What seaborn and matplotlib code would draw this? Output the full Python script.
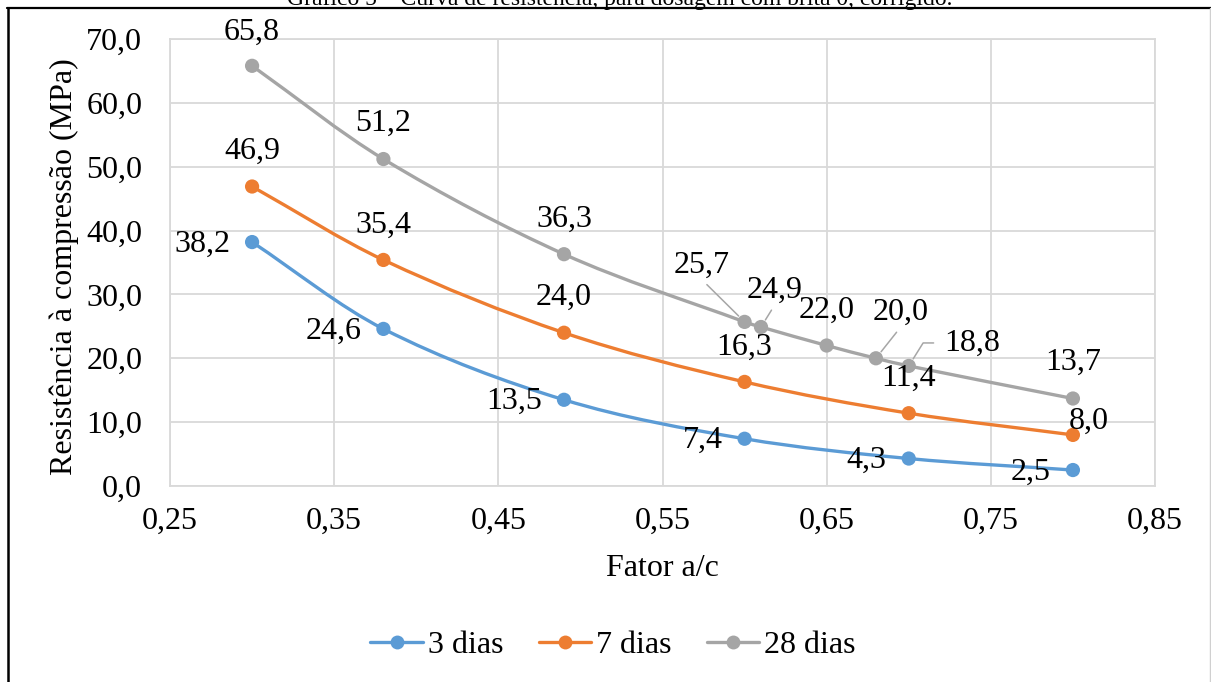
import numpy as np
import pandas as pd
import matplotlib
matplotlib.use("Agg")
import matplotlib.pyplot as plt
import seaborn as sns
from matplotlib.path import Path
from matplotlib.patches import PathPatch
from matplotlib.lines import Line2D
from matplotlib.ticker import FuncFormatter

# Compressive strength vs water/cement ratio
fator_3d = [0.30, 0.38, 0.49, 0.60, 0.70, 0.80]
res_3d = [38.2, 24.6, 13.5, 7.4, 4.3, 2.5]

fator_7d = [0.30, 0.38, 0.49, 0.60, 0.70, 0.80]
res_7d = [46.9, 35.4, 24.0, 16.3, 11.4, 8.0]

fator_28d = [0.30, 0.38, 0.49, 0.60, 0.61, 0.65, 0.68, 0.70, 0.80]
res_28d = [65.8, 51.2, 36.3, 25.7, 24.9, 22.0, 20.0, 18.8, 13.7]

series_names = ["3 dias", "7 dias", "28 dias"]
series_colors = ["#5B9BD5", "#ED7D31", "#A5A5A5"]

x_ticks = [0.25, 0.35, 0.45, 0.55, 0.65, 0.75, 0.85]
y_ticks = [0, 10, 20, 30, 40, 50, 60, 70]

titulo = "Gráfico 5 – Curva de resistência, para dosagem com brita 0, corrigido."
x_label = "Fator a/c"
y_label = "Resistência à compressão (MPa)"

# label placement per point: (dx px, dy px, ha, leader)
label_pos = {
    "3 dias": [(-22, -2, "right", None)] * 6,
    "7 dias": [(0, 35, "center", None)] * 5 + [(16, 14, "center", None)],
    "28 dias": [
        (0, 33, "center", None),
        (0, 36, "center", None),
        (0, 35, "center", None),
        (-43, 57, "center", "straight"),
        (14, 37, "center", "straight"),
        (0, 35, "center", None),
        (25, 46, "center", "straight"),
        (63, 23, "center", "bent"),
        (0, 36, "center", None),
    ],
}

sns.set_theme(style="white")
plt.rcParams["font.family"] = ["Liberation Serif", "DejaVu Serif"]
plt.rcParams["text.color"] = "black"

df = pd.concat([
    pd.DataFrame({"fator": fator_3d, "res": res_3d, "serie": series_names[0]}),
    pd.DataFrame({"fator": fator_7d, "res": res_7d, "serie": series_names[1]}),
    pd.DataFrame({"fator": fator_28d, "res": res_28d, "serie": series_names[2]}),
], ignore_index=True)

W, H = 1211, 682
fig = plt.figure(figsize=(W / 100, H / 100), dpi=100)
ax = fig.add_axes([170 / W, 1 - 486 / H, (1155 - 170) / W, (486 - 39) / H])


def smooth_path(x, y):
    """Cubic Bezier path through the points (Hermite tangents along x)."""
    x = np.asarray(x, float)
    y = np.asarray(y, float)
    n = len(x)
    slopes = np.empty(n)
    for i in range(n):
        a, b = max(i - 1, 0), min(i + 1, n - 1)
        slopes[i] = (y[b] - y[a]) / (x[b] - x[a])
    verts = [(x[0], y[0])]
    codes = [Path.MOVETO]
    for i in range(n - 1):
        dx = x[i + 1] - x[i]
        verts += [(x[i] + dx / 3, y[i] + slopes[i] * dx / 3),
                  (x[i + 1] - dx / 3, y[i + 1] - slopes[i + 1] * dx / 3),
                  (x[i + 1], y[i + 1])]
        codes += [Path.CURVE4] * 3
    return Path(verts, codes)


palette = dict(zip(series_names, series_colors))
for name in series_names:
    sub = df[df["serie"] == name]
    ax.add_patch(PathPatch(smooth_path(sub["fator"], sub["res"]), fill=False,
                           edgecolor=palette[name], lw=2.4, capstyle="round",
                           zorder=2))

sns.scatterplot(data=df, x="fator", y="res", hue="serie", palette=palette,
                s=105, linewidth=0, legend=False, ax=ax, zorder=3)

# data labels
for name in series_names:
    sub = df[df["serie"] == name].reset_index(drop=True)
    for i, row in sub.iterrows():
        dx, dy, ha, leader = label_pos[name][i]
        txt = f"{row['res']:.1f}".replace(".", ",")
        kw = {}
        if leader == "straight":
            kw["arrowprops"] = dict(arrowstyle="-", color="#a6a6a6", lw=1.1,
                                    relpos=(0.5, 0.0), shrinkA=2, shrinkB=6)
        elif leader == "bent":
            kw["arrowprops"] = dict(arrowstyle="-", color="#a6a6a6", lw=1.1,
                                    relpos=(0.0, 0.5), shrinkA=5, shrinkB=6,
                                    connectionstyle="angle,angleA=0,angleB=58,rad=0")
        ax.annotate(txt, xy=(row["fator"], row["res"]), xytext=(dx, dy),
                    textcoords="offset pixels", ha=ha, va="center",
                    fontsize=23, color="black", zorder=4, **kw)

ax.set_xlim(0.25, 0.85)
ax.set_ylim(0, 70)
ax.set_xticks(x_ticks)
ax.set_yticks(y_ticks)
ax.xaxis.set_major_formatter(FuncFormatter(lambda v, p: f"{v:.2f}".replace(".", ",")))
ax.yaxis.set_major_formatter(FuncFormatter(lambda v, p: f"{v:.1f}".replace(".", ",")))
ax.grid(True, color="#d9d9d9", lw=1.3)
ax.set_axisbelow(True)
for s in ax.spines.values():
    s.set_color("#d9d9d9")
    s.set_linewidth(1.3)
ax.tick_params(axis="both", length=0, labelsize=23, colors="black")
ax.tick_params(axis="y", pad=20)
ax.tick_params(axis="x", pad=15)

ax.set_xlabel(x_label, fontsize=23, color="black")
ax.set_ylabel(y_label, fontsize=23, color="black")
ax.xaxis.label.set_va("center")
ax.xaxis.set_label_coords(0.5, -0.185)
ax.yaxis.label.set_va("center")
ax.yaxis.set_label_coords(-0.107, 0.49)

handles = [Line2D([], [], color=c, lw=2.4, marker="o", markersize=10,
                  markeredgewidth=0) for c in series_colors]
fig.legend(handles, series_names, loc="center",
           bbox_to_anchor=(613 / W, 1 - 645 / H), ncol=3, frameon=False,
           handlelength=1.65, handletextpad=0.15, columnspacing=1.1,
           fontsize=23)

# caption sitting above the frame, and the frame lines
fig.text(620 / W, 1 - 5 / H, titulo, ha="center", va="baseline", fontsize=17,
         color="black")
fig.add_artist(Line2D([7 / W, 1], [1 - 8 / H, 1 - 8 / H], color="black",
                      lw=1.6, transform=fig.transFigure))
fig.add_artist(Line2D([8 / W, 8 / W], [0, 1 - 8 / H], color="black",
                      lw=1.8, transform=fig.transFigure))
fig.add_artist(Line2D([1209.5 / W, 1209.5 / W], [0, 1 - 8 / H], color="#d0d0d0",
                      lw=1.0, transform=fig.transFigure))

fig.savefig("out.png", dpi=100)
